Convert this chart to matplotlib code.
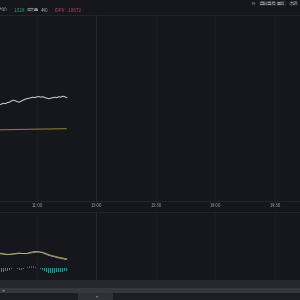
import matplotlib
matplotlib.use("Agg")
import matplotlib.pyplot as plt
from matplotlib.patches import Rectangle

plt.rcParams['font.family'] = ['Noto Sans CJK SC', 'DejaVu Sans']

# ---- data ----
minutes = list(range(71, 106))  # trading minutes since 09:30 (lunch removed)
price = [1.03045, 1.0305, 1.0306, 1.03055, 1.03065, 1.0307, 1.0308, 1.0309, 1.03085,
         1.03075, 1.0307, 1.0308, 1.0309, 1.031, 1.03105, 1.0311, 1.03115, 1.0312,
         1.03115, 1.03125, 1.03125, 1.0312, 1.03125, 1.03115, 1.0311, 1.03105, 1.0311,
         1.03115, 1.0312, 1.03115, 1.03125, 1.0312, 1.0313, 1.03125, 1.03115]
avg_price = [1.02795, 1.02795, 1.02795, 1.02796, 1.02796, 1.02796, 1.02797, 1.02797,
             1.02797, 1.02798, 1.02798, 1.02798, 1.02799, 1.02799, 1.02799, 1.028,
             1.028, 1.028, 1.02801, 1.02801, 1.02801, 1.02802, 1.02802, 1.02802,
             1.02803, 1.02803, 1.02803, 1.02804, 1.02804, 1.02804, 1.02805, 1.02805,
             1.02805, 1.02806, 1.02806]
dif = [0.00153, 0.00151, 0.00148, 0.00143, 0.00141, 0.00141, 0.00143, 0.00145,
       0.00148, 0.00151, 0.00153, 0.00151, 0.00148, 0.00147, 0.0015, 0.00156,
       0.00161, 0.00165, 0.00168, 0.00168, 0.00165, 0.0016, 0.00153, 0.00145,
       0.00137, 0.00129, 0.00123, 0.00118, 0.00113, 0.00108, 0.00103, 0.00099,
       0.00095, 0.00091, 0.00088]
dea = [0.00145, 0.00143, 0.0014, 0.00137, 0.00136, 0.00137, 0.00139, 0.00141,
       0.00143, 0.00146, 0.00148, 0.00148, 0.00148, 0.00148, 0.00149, 0.00151,
       0.00154, 0.00157, 0.00159, 0.00161, 0.00162, 0.00162, 0.00161, 0.00153,
       0.00145, 0.00137, 0.00131, 0.00126, 0.00121, 0.00116, 0.00111, 0.00107,
       0.00103, 0.00099, 0.00096]
macd_hist = [-0.0003, -0.00035, -0.00035, -0.0003, -0.00025, -0.00015, -0.00005,
             0.00005, 0.00005, -0.00005, -0.00015, -0.00015, -0.00005, 0.00005,
             0.00015, 0.00025, 0.00025, 0.0002, 0.00015, 0.0001, 0.00005, -0.0001,
             -0.0002, -0.0003, -0.0004, -0.00045, -0.0005, -0.0005, -0.00045,
             -0.0004, -0.0004, -0.00035, -0.00035, -0.0003, -0.0003]
tick_minutes = [90, 120, 150, 180, 210]
tick_labels = ['11:00', '13:00', '13:30', '14:00', '14:30']

# ---- style ----
BG = '#15171c'
GRID = '#1c1f25'
TXT = '#9a9ca4'
FS = 3.3
W, H = 300, 300
ppm = 1.983                      # pixels per minute
t_left = 90 - 37 / ppm
t_right = t_left + W / ppm

fig = plt.figure(figsize=(3, 3), dpi=100, facecolor=BG)

def px_axes(x0, y0, x1, y1):
    return fig.add_axes([x0 / W, 1 - y1 / H, (x1 - x0) / W, (y1 - y0) / H])

def style(a):
    a.set_facecolor(BG)
    a.set_xlim(t_left, t_right)
    a.set_xticks(tick_minutes)
    a.set_yticks([])
    a.grid(axis='x', color=GRID, lw=0.5)
    a.axvline(120, color='#2a2d34', lw=0.6)
    for s in a.spines.values():
        s.set_color('#24272e')
        s.set_linewidth(0.6)
    a.spines['left'].set_visible(False)
    a.spines['right'].set_visible(False)

# main price panel
ax = px_axes(0, 15, 300, 200.7)
style(ax)
ax.set_ylim(1.0209 - 0.00003, 1.0394)
ax.plot(minutes, avg_price, color='#857530', lw=0.8, solid_capstyle='butt')
ax.plot(minutes, price, color='#d4d3d8', lw=0.7)
ax.set_xticklabels(tick_labels)
ax.tick_params(axis='x', length=0, pad=1.5, labelsize=FS, labelcolor=TXT)

# lower MACD panel
ax2 = px_axes(0, 211.7, 300, 280)
style(ax2)
ax2.set_ylim(-0.00117, 0.00566)
colors = ['#a8303c' if v > 0 else '#279090' for v in macd_hist]
ax2.bar(minutes, macd_hist, width=0.5, color=colors, linewidth=0)
ax2.plot(minutes, dea, color='#a49848', lw=0.6)
ax2.plot(minutes, dif, color='#bdbdc2', lw=0.5)
ax2.set_xticklabels([])
ax2.tick_params(length=0)

# bottom bars
def px_rect(x0, y0, x1, y1, color):
    fig.add_artist(Rectangle((x0 / W, 1 - y1 / H), (x1 - x0) / W, (y1 - y0) / H,
                             transform=fig.transFigure, color=color, lw=0))

px_rect(0, 280, 300, 287.7, '#27282d')
px_rect(0, 287.7, 300, 293.3, '#37383d')
px_rect(0, 293.3, 300, 300, '#1d1e22')
px_rect(78, 293.3, 113, 300, '#303136')
fig.text(1.5 / W, 1 - 290.5 / H, '◂', fontsize=3.5, color='#888a90', va='center',
         family=['DejaVu Sans'])
fig.text(97 / W, 1 - 296 / H, '▾', fontsize=3, color='#888a90', va='center',
         ha='center', family=['DejaVu Sans'])

# header
yh = 1 - 10 / H
fig.text(0 / W, yh, '均价', fontsize=3.0, color=TXT, va='center')
fig.text(14 / W, yh, '1.028', fontsize=FS, color='#2fae5a', va='center')
fig.text(27 / W, yh, '成交量', fontsize=2.9, color=TXT, va='center')
fig.text(40.5 / W, yh, '440', fontsize=FS, color=TXT, va='center')
fig.text(55 / W, yh, 'IOPV', fontsize=FS, color='#d0404f', va='center')
fig.text(68 / W, yh, '1.0672', fontsize=FS, color='#d0404f', va='center')

yb = 1 - 3.7 / H
bb = dict(boxstyle='square,pad=0.12', fc='#23252b', ec='none')
FSB = 3.0
fig.text(252 / W, yb, 'F9', fontsize=FSB, color=TXT, va='center')
fig.text(259.5 / W, yb, '盘前盘后', fontsize=FSB, color=TXT, va='center', bbox=bb)
fig.text(277 / W, yb, '叠加', fontsize=FSB, color=TXT, va='center', bbox=bb)
fig.text(289.5 / W, yb, '九转', fontsize=FSB, color=TXT, va='center', bbox=bb)

fig.savefig('out.png', dpi=100, facecolor=BG)
